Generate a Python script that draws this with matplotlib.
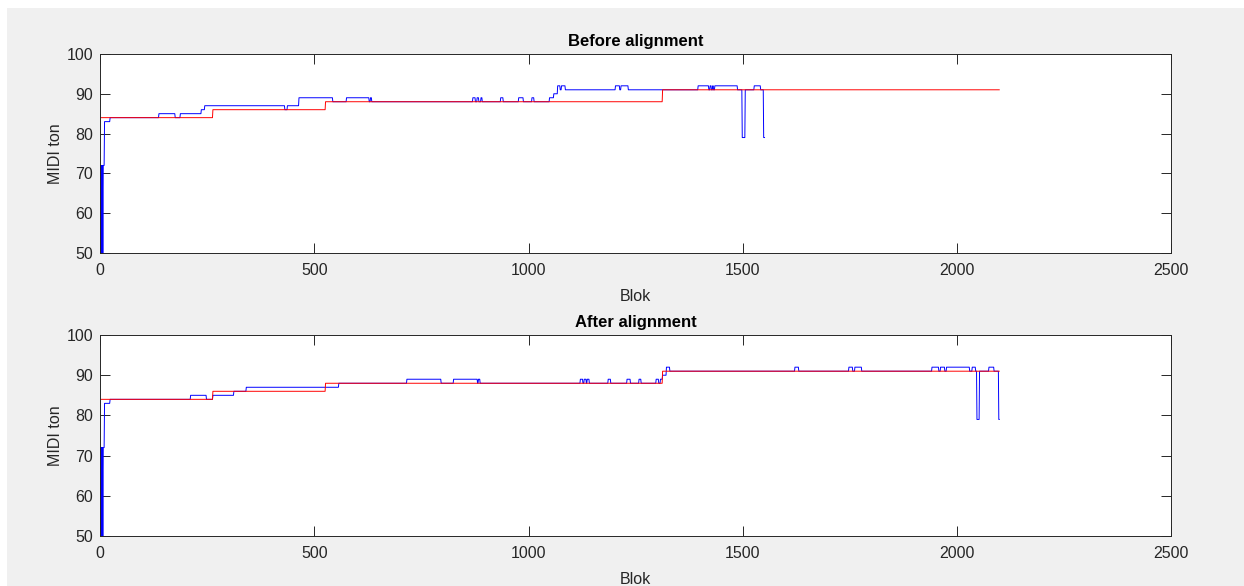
import numpy as np
import matplotlib
matplotlib.use('Agg')
import matplotlib.pyplot as plt
from matplotlib.patches import Rectangle

matplotlib.rc('font', family='Liberation Sans', size=11.5)

# score (MIDI reference), same in both panels
score_starts = [0, 263, 526, 1313]
score_notes = [84, 86, 88, 91]
score_end = 2100

# detected pitch per block, before alignment
before_starts = [0, 1, 2, 3, 4, 5, 6, 7, 10, 23, 137, 175, 187, 236, 244,
                 431, 437, 464, 543, 575, 628, 631, 634,
                 870, 876, 880, 884, 889, 892, 935, 941, 977, 988, 1008, 1013,
                 1049, 1059, 1068, 1074, 1077, 1086, 1203, 1213, 1216, 1233,
                 1396, 1421, 1424, 1427, 1430, 1432, 1435, 1488,
                 1499, 1506, 1527, 1542, 1549]
before_notes = [50, 72, 50, 72, 50, 72, 50, 72, 83, 84, 85, 84, 85, 86, 87,
                86, 87, 89, 88, 89, 88, 89, 88,
                89, 88, 89, 88, 89, 88, 89, 88, 89, 88, 89, 88,
                89, 90, 92, 91, 92, 91, 92, 91, 92, 91,
                92, 91, 92, 91, 92, 91, 92, 91,
                79, 91, 92, 91, 79]
before_end = 1552

# detected pitch per block, after alignment
after_starts = [0, 1, 2, 3, 4, 5, 6, 7, 10, 23, 211, 248, 263, 312, 341,
                557, 716, 796, 825, 881, 883, 887,
                1121, 1127, 1130, 1135, 1137, 1142, 1186, 1192, 1230, 1238,
                1258, 1263, 1298, 1304, 1308, 1313, 1322, 1330,
                1622, 1631, 1748, 1757, 1762, 1778,
                1942, 1958, 1962, 1972, 1976, 2030, 2036, 2044,
                2047, 2053, 2075, 2087, 2098]
after_notes = [50, 72, 50, 72, 50, 72, 50, 72, 83, 84, 85, 84, 85, 86, 87,
               88, 89, 88, 89, 88, 89, 88,
               89, 88, 89, 88, 89, 88, 89, 88, 89, 88,
               89, 88, 89, 88, 89, 90, 92, 91,
               92, 91, 92, 91, 92, 91,
               92, 91, 92, 91, 92, 91, 92, 91,
               79, 91, 92, 91, 79]
after_end = 2100


def blocks(starts, notes, end):
    """one value per block from the step list"""
    lengths = np.diff(list(starts) + [end])
    return np.repeat(notes, lengths)


def style(ax, title):
    ax.set_xlim(0, 2500)
    ax.set_ylim(50, 100)
    ax.set_xticks(np.arange(0, 2501, 500))
    ax.set_yticks(np.arange(50, 101, 10))
    ax.tick_params(direction='in', length=7.5, width=0.7, colors='#262626',
                   top=True, right=True, labelsize=11.5)
    ax.tick_params(axis='x', pad=7)
    ax.tick_params(axis='y', pad=5)
    for s in ax.spines.values():
        s.set_color('#262626')
        s.set_linewidth(0.7)
    ax.set_title(title, fontweight='bold', fontsize=12, color='black', pad=6)
    ax.set_xlabel('Blok', color='#262626', labelpad=8)
    ax.set_ylabel('MIDI ton', color='#262626', labelpad=3)


fig = plt.figure(figsize=(12.44, 5.86), dpi=100, facecolor='white')
fig.patches.append(Rectangle((7 / 1244, 0), 1 - 7 / 1244, 1 - 8 / 586,
                             transform=fig.transFigure, facecolor='#f0f0f0',
                             edgecolor='none', zorder=-10))

ax1 = fig.add_axes([0.0806, 0.5683, 0.8607, 0.3396])
ax2 = fig.add_axes([0.0806, 0.0853, 0.8607, 0.343])

for ax, starts, notes, end, title in [
        (ax1, before_starts, before_notes, before_end, 'Before alignment'),
        (ax2, after_starts, after_notes, after_end, 'After alignment')]:
    pitch = blocks(starts, notes, end)
    score = blocks(score_starts, score_notes, score_end)
    ax.plot(np.arange(len(pitch)), pitch, color='b', lw=0.7)
    ax.plot(np.arange(len(score)), score, color='r', lw=0.7)
    style(ax, title)

plt.savefig('out.png', dpi=100, facecolor=fig.get_facecolor())
